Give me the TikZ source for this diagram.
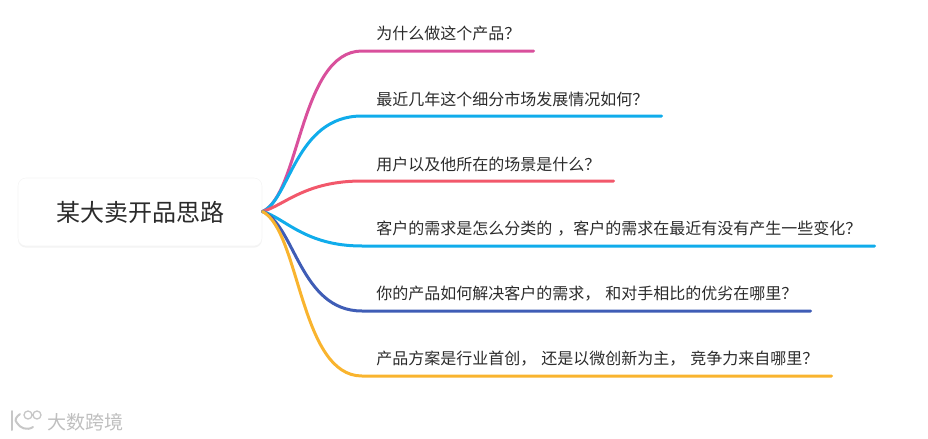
\documentclass[tikz,border=0pt]{standalone}
\usepackage{fontspec}
\setmainfont{Noto Sans CJK SC}
\usetikzlibrary{shadows}
\definecolor{rosebranch}{HTML}{D9509C}
\definecolor{skybranch}{HTML}{10ACEB}
\definecolor{redbranch}{HTML}{F2586B}
\definecolor{indigobranch}{HTML}{3F5DB6}
\definecolor{amberbranch}{HTML}{F9B42E}
\definecolor{inktext}{HTML}{2B2B2B}
\newcommand{\leaffont}{\fontsize{12}{12}\selectfont\spaceskip 3.8pt\relax}
\tikzset{
  rootbox/.style={draw=black!4,line width=0.4pt,fill=white,rounded corners=6,minimum width=183pt,minimum height=51pt,
    font=\fontsize{18}{18}\selectfont,text=inktext,inner sep=0pt,
    drop shadow={shadow xshift=0pt,shadow yshift=-1.2pt,opacity=0.14,fill=black!35}},
  leaf/.style={anchor=west,font=\leaffont,text=inktext,inner sep=0pt},
  branch/.style={line width=2.25pt,line cap=round,line join=round},
  stamp/.style={font=\fontsize{14.3}{14.3}\selectfont,text=black!25,inner sep=0pt,anchor=west}
}
\begin{document}
\begin{tikzpicture}[x=0.75pt,y=-0.75pt]
\useasboundingbox (0,0) rectangle (928,439);
\node[rootbox] (root) at (140,212) {\raisebox{-1.2pt}{某大卖开品思路}};
\coordinate (hub) at (262.5,211.5);
\node[leaf] (why) at (376,33) {为什么做这个产品？};
\node[leaf] (market) at (376,99) {最近几年这个细分市场发展情况如何？};
\node[leaf] (user) at (376,164) {用户以及他所在的场景是什么？};
\node[leaf] (need) at (376,229) {客户的需求是怎么分类的 ，\hspace{-3.8pt} 客户的需求在最近有没有产生一些变化？};
\node[leaf] (solve) at (376,294) {你的产品如何解决客户的需求， 和对手相比的优劣在哪里？};
\node[leaf] (plan) at (376,359) {产品方案是行业首创， 还是以微创新为主， 竞争力来自哪里？};
\coordinate (whyend) at (533.5,51);
\coordinate (marketend) at (661.5,116);
\coordinate (userend) at (613.5,181);
\coordinate (needend) at (874.5,246);
\coordinate (solveend) at (810.5,311);
\coordinate (planend) at (831.5,376);
\draw[branch,rosebranch] (hub) .. controls (300,195) and (300,51) .. (362,51) -- (whyend);
\draw[branch,skybranch] (hub) .. controls (290,200) and (295,116) .. (362,116) -- (marketend);
\draw[branch,redbranch] (hub) .. controls (285,205) and (305,181) .. (362,181) -- (userend);
\draw[branch,skybranch] (hub) .. controls (285,218) and (305,246) .. (362,246) -- (needend);
\draw[branch,indigobranch] (hub) .. controls (295,225) and (300,311) .. (362,311) -- (solveend);
\draw[branch,amberbranch] (hub) .. controls (300,231) and (300,376) .. (362,376) -- (planend);
\node[stamp] (mark) at (47,422) {大数跨境};
\draw[black!22,line width=1.5pt,line cap=round] (12,411) -- (12,430);
\draw[black!22,line width=1.5pt,line cap=round] (20,414) .. controls (16,417) and (14,420) .. (17,423) .. controls (20,428) and (27,431) .. (33,427);
\draw[black!22,line width=1pt] (28,415) circle (4) (37,415) circle (4);
\end{tikzpicture}
\end{document}
